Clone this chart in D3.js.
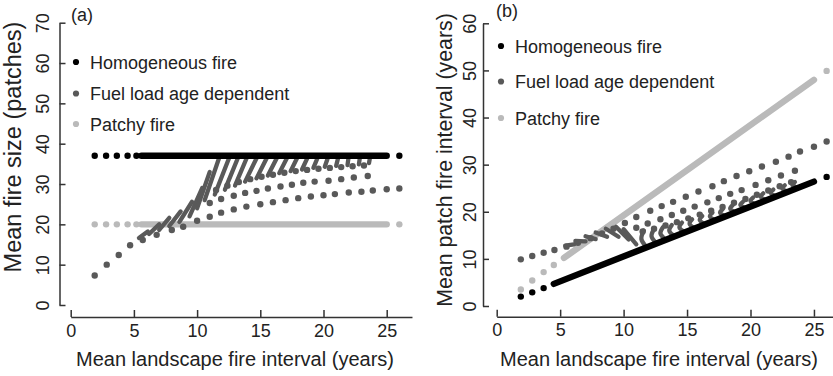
<!DOCTYPE html>
<html>
<head>
<meta charset="utf-8">
<script src="https://cdn.jsdelivr.net/npm/d3@7"></script>
<style>
  body { margin: 0; background: #fff; }
  svg { display: block; }
  text { font-family: "Liberation Sans", Arial, Helvetica, sans-serif; fill: #222; }
</style>
</head>
<body>
<svg id="chart" width="833" height="376"></svg>
<script>
// ---- shared labels ----
const xTicks = [0, 5, 10, 15, 20, 25];
const yTicksA = [0, 10, 20, 30, 40, 50, 60, 70];
const yTicksB = [0, 10, 20, 30, 40, 50, 60];
const legendLabels = ['Homogeneous fire', 'Fuel load age dependent', 'Patchy fire'];
const seriesColors = ['#000000', '#595959', '#bababa'];

// ---- panel (a): mean fire size (patches) ----
// homogeneous / patchy: separate dots at low intervals, a dense run, and one lone run at 26
const homogDotsAX = [1.9, 2.8, 3.65, 4.5, 5.2, 26.0];
const homogDotsAY = [37.0, 37.0, 37.0, 37.0, 37.0, 37.0];
const homogRunA = [[5.6, 37.0], [25.0, 37.0]];
const patchyDotsAX = [1.9, 2.8, 3.65, 4.5, 5.2, 26.0];
const patchyDotsAY = [20.0, 20.0, 20.0, 20.0, 20.0, 20.0];
const patchyRunA = [[5.6, 20.0], [25.0, 20.0]];

// fuel load age dependent: three loose rows of dots ...
const fuelRow1AX = [1.9, 2.85, 3.8, 4.7, 5.7, 6.8, 8.0, 8.9, 10.0, 11.0, 11.9, 12.9, 13.9, 15.0, 16.0, 17.0, 18.0, 19.0, 20.0, 20.9, 22.0, 23.0, 23.9, 25.0, 26.0];
const fuelRow1AY = [7.3, 10.0, 12.4, 14.8, 16.1, 17.4, 18.6, 19.4, 20.9, 21.9, 22.9, 23.7, 24.4, 25.0, 25.5, 26.0, 26.5, 26.9, 27.2, 27.5, 27.9, 28.1, 28.4, 28.7, 28.9];
const fuelRow2AX = [11.0, 11.9, 12.9, 13.8, 14.7, 15.6, 16.6, 17.5, 18.4, 19.3, 20.4, 21.4, 22.4, 23.5];
const fuelRow2AY = [25.3, 26.3, 27.1, 27.8, 28.3, 28.9, 29.4, 29.8, 30.3, 30.6, 30.8, 31.2, 31.6, 32.0];
const fuelRow3AX = [11.5, 12.4, 13.3, 14.2, 15.1, 16.0, 16.9, 17.8, 18.7, 19.6, 20.5, 21.4, 22.3, 23.2];
const fuelRow3AY = [28.5, 29.6, 30.5, 31.2, 31.8, 32.3, 32.8, 33.2, 33.5, 33.8, 34.0, 34.2, 34.4, 34.6];
// ... and the dense comb strokes (bottom end, top end)
const fuelCombsA = [
  [[5.4, 16.6], [6.1, 18.2]], [[6.2, 17.6], [7.0, 20.0]], [[7.0, 18.6], [7.8, 21.6]],
  [[7.8, 19.6], [8.7, 23.2]], [[8.6, 20.6], [9.6, 25.6]], [[9.4, 22.0], [10.4, 29.0]],
  [[10.0, 24.0], [11.0, 33.0]], [[10.6, 26.0], [11.8, 37.0]], [[11.4, 27.4], [12.6, 37.0]],
  [[12.2, 28.6], [13.3, 37.0]], [[13.0, 29.6], [14.0, 37.0]], [[13.8, 30.6], [14.8, 37.0]],
  [[14.7, 31.4], [15.6, 37.0]], [[15.6, 32.1], [16.4, 37.0]], [[16.5, 32.7], [17.2, 37.0]],
  [[17.4, 33.2], [18.0, 37.0]], [[18.3, 33.6], [18.8, 37.0]], [[19.2, 34.0], [19.6, 37.0]],
  [[20.1, 34.3], [20.4, 37.0]], [[21.0, 34.5], [21.2, 37.0]], [[21.9, 34.7], [22.0, 37.0]],
  [[22.8, 34.9], [22.9, 37.0]], [[23.6, 35.2], [23.7, 37.0]]
];

// ---- panel (b): mean patch fire interval (years) ----
const homogDotsBX = [1.9, 2.8, 3.7, 26.0];
const homogDotsBY = [2.0, 2.9, 3.8, 27.4];
const homogRunB = [[4.5, 4.7], [25.0, 26.4]];
const patchyDotsBX = [1.9, 2.8, 3.7, 4.5, 26.0];
const patchyDotsBY = [3.5, 5.4, 7.2, 8.7, 49.9];
const patchyRunB = [[5.3, 10.2], [25.0, 48.0]];

const fuelRow1BX = [1.9, 2.8, 3.7, 4.55, 5.5, 6.4, 7.4, 8.3, 9.2, 10.1, 11.0, 12.1, 13.0, 13.9, 14.9, 15.9, 17.0, 17.9, 18.9, 19.9, 20.9, 22.0, 23.0, 23.9, 25.0, 26.0];
const fuelRow1BY = [9.9, 10.6, 11.3, 11.9, 12.6, 13.4, 14.4, 15.4, 16.4, 17.6, 18.9, 20.2, 21.2, 22.1, 23.2, 24.3, 25.4, 26.5, 27.6, 28.6, 29.6, 30.6, 31.7, 32.8, 33.8, 34.9];
const fuelRow2BX = [11.0, 11.9, 12.9, 13.8, 14.7, 15.6, 16.6, 17.5, 18.4, 19.3, 20.4, 21.4, 22.4, 23.5];
const fuelRow2BY = [16.6, 17.5, 18.4, 19.3, 20.2, 21.1, 22.0, 22.9, 23.8, 24.6, 25.7, 26.7, 27.7, 28.7];
const fuelRow3BX = [11.5, 12.4, 13.3, 14.2, 15.1, 16.0, 16.9, 17.8, 18.7, 19.6, 20.5, 21.4, 22.3, 23.2];
const fuelRow3BY = [15.8, 16.4, 17.1, 17.8, 18.6, 19.4, 20.2, 21.0, 21.9, 22.7, 23.6, 24.5, 25.4, 26.3];
// comb strokes: upper end, bend, end on the homogeneous line
const fuelCombsB = [
  [[5.4, 12.8], [6.1, 13.1]], [[6.2, 13.8], [7.0, 13.7]], [[7.0, 14.8], [7.8, 14.2]],
  [[7.8, 15.6], [8.7, 14.7]], [[8.6, 16.4], [9.6, 14.7]], [[9.4, 16.8], [10.4, 14.1]],
  [[10.0, 16.3], [11.0, 13.1]],
  [[11.6, 16.0], [11.4, 14.25], [11.8, 12.5]], [[12.4, 16.3], [12.2, 14.8], [12.6, 13.3]],
  [[13.1, 16.7], [12.9, 15.4], [13.3, 14.1]], [[13.8, 17.2], [13.6, 16.0], [14.0, 14.8]],
  [[14.6, 17.7], [14.4, 16.7], [14.8, 15.7]], [[15.4, 18.4], [15.2, 17.45], [15.6, 16.5]],
  [[16.2, 19.1], [16.0, 18.25], [16.4, 17.4]], [[17.0, 19.8], [16.8, 19.0], [17.2, 18.2]],
  [[17.8, 20.5], [17.6, 19.8], [18.0, 19.1]], [[18.6, 21.4], [18.4, 20.65], [18.8, 19.9]],
  [[19.4, 22.1], [19.2, 21.45], [19.6, 20.8]], [[20.2, 23.0], [20.0, 22.3], [20.4, 21.6]],
  [[21.0, 23.9], [20.8, 23.2], [21.2, 22.5]], [[21.8, 24.7], [21.6, 24.0], [22.0, 23.3]],
  [[22.7, 25.6], [22.5, 24.95], [22.9, 24.3]], [[23.5, 26.3], [23.3, 25.7], [23.7, 25.1]]
];

const zip = (xs, ys) => xs.map((v, i) => [v, ys[i]]);

const svg = d3.select('#chart');
const R = 3.2;          // dot radius
const axisColor = '#333';

function drawPanel(p) {
  const x = d3.scaleLinear().domain([0, 27]).range([p.left, p.left + 27 * p.kx]);
  const y = d3.scaleLinear().domain([0, p.yMax]).range([p.bottom, p.top]);
  const g = svg.append('g');

  // x axis, ticks pointing inward
  const gx = g.append('g')
    .attr('transform', `translate(0,${p.axisY})`)
    .call(d3.axisBottom(x).tickValues(xTicks).tickSize(-7).tickSizeOuter(0).tickPadding(7));
  // y axis, rotated labels
  const gy = g.append('g')
    .attr('transform', `translate(${p.axisX},0)`)
    .call(d3.axisLeft(y).tickValues(p.yTicks).tickSize(-6).tickSizeOuter(0));
  gy.selectAll('.tick text')
    .attr('x', 0).attr('dy', null).attr('y', -p.labelOff)
    .attr('text-anchor', 'middle')
    .attr('transform', 'rotate(-90)');
  [gx, gy].forEach(a => {
    a.attr('font-size', 18).attr('font-family', null).style('color', axisColor);
    a.selectAll('path, line').attr('stroke-width', 1.5);
    a.selectAll('text').style('fill', '#222');
  });

  // axis titles
  g.append('text')
    .attr('x', p.xTitleX).attr('y', 366)
    .attr('text-anchor', 'middle').attr('font-size', 20)
    .text('Mean landscape fire interval (years)');
  g.append('text')
    .attr('transform', `translate(${p.yTitleX},${p.yTitleY}) rotate(-90)`)
    .attr('text-anchor', 'middle').attr('font-size', p.yTitleSize)
    .text(p.yTitle);
  g.append('text')
    .attr('x', p.tagX).attr('y', p.tagY).attr('font-size', 18)
    .text(p.tag);

  const marks = g.append('g');
  const dots = (pts, color) => marks.append('g').selectAll('circle')
    .data(pts).join('circle')
    .attr('cx', d => x(d[0])).attr('cy', d => y(d[1])).attr('r', R)
    .attr('fill', color);
  const line = d3.line().curve(d3.curveCatmullRom).x(d => x(d[0])).y(d => y(d[1]));
  const strokes = (paths, color, w) => marks.append('g').selectAll('path')
    .data(paths).join('path')
    .attr('d', line).attr('fill', 'none').attr('stroke', color)
    .attr('stroke-width', w).attr('stroke-linecap', 'round').attr('stroke-linejoin', 'round');

  // patchy below, fuel load in the middle, homogeneous on top
  strokes([p.patchyRun], seriesColors[2], 2 * R);
  dots(p.patchyDots, seriesColors[2]);
  p.fuelRows.forEach(r => dots(r, seriesColors[1]));
  strokes(p.fuelCombs, seriesColors[1], 4.3);
  strokes([p.homogRun], seriesColors[0], 2 * R);
  dots(p.homogDots, seriesColors[0]);

  // legend
  const lg = g.append('g');
  legendLabels.forEach((lab, i) => {
    lg.append('circle')
      .attr('cx', p.legX).attr('cy', p.legY[i]).attr('r', 3.1)
      .attr('fill', seriesColors[i]);
    lg.append('text')
      .attr('x', p.legX + 14).attr('y', p.legY[i] + 6.5)
      .attr('font-size', 18)
      .text(lab);
  });
}

drawPanel({
  left: 70.7, kx: 12.64, bottom: 305, top: 22.7, yMax: 70, yTicks: yTicksA,
  axisY: 317, axisX: 59.5, labelOff: 10.4,
  xTitleX: 235, yTitleX: 21, yTitleY: 147, yTitleSize: 23.5, yTitle: 'Mean fire size (patches)',
  tag: '(a)', tagX: 71, tagY: 21,
  homogDots: zip(homogDotsAX, homogDotsAY), homogRun: homogRunA,
  patchyDots: zip(patchyDotsAX, patchyDotsAY), patchyRun: patchyRunA,
  fuelRows: [zip(fuelRow1AX, fuelRow1AY), zip(fuelRow2AX, fuelRow2AY), zip(fuelRow3AX, fuelRow3AY)],
  fuelCombs: fuelCombsA,
  legX: 76, legY: [62, 93.5, 124]
});

drawPanel({
  left: 496.7, kx: 12.69, bottom: 306, top: 23.3, yMax: 60, yTicks: yTicksB,
  axisY: 316.7, axisX: 483, labelOff: 7.5,
  xTitleX: 659, yTitleX: 452, yTitleY: 160, yTitleSize: 21.3, yTitle: 'Mean patch fire interval (years)',
  tag: '(b)', tagX: 496, tagY: 17,
  homogDots: zip(homogDotsBX, homogDotsBY), homogRun: homogRunB,
  patchyDots: zip(patchyDotsBX, patchyDotsBY), patchyRun: patchyRunB,
  fuelRows: [zip(fuelRow1BX, fuelRow1BY), zip(fuelRow2BX, fuelRow2BY), zip(fuelRow3BX, fuelRow3BY)],
  fuelCombs: fuelCombsB,
  legX: 501, legY: [46, 81.5, 118]
});
</script>
</body>
</html>
